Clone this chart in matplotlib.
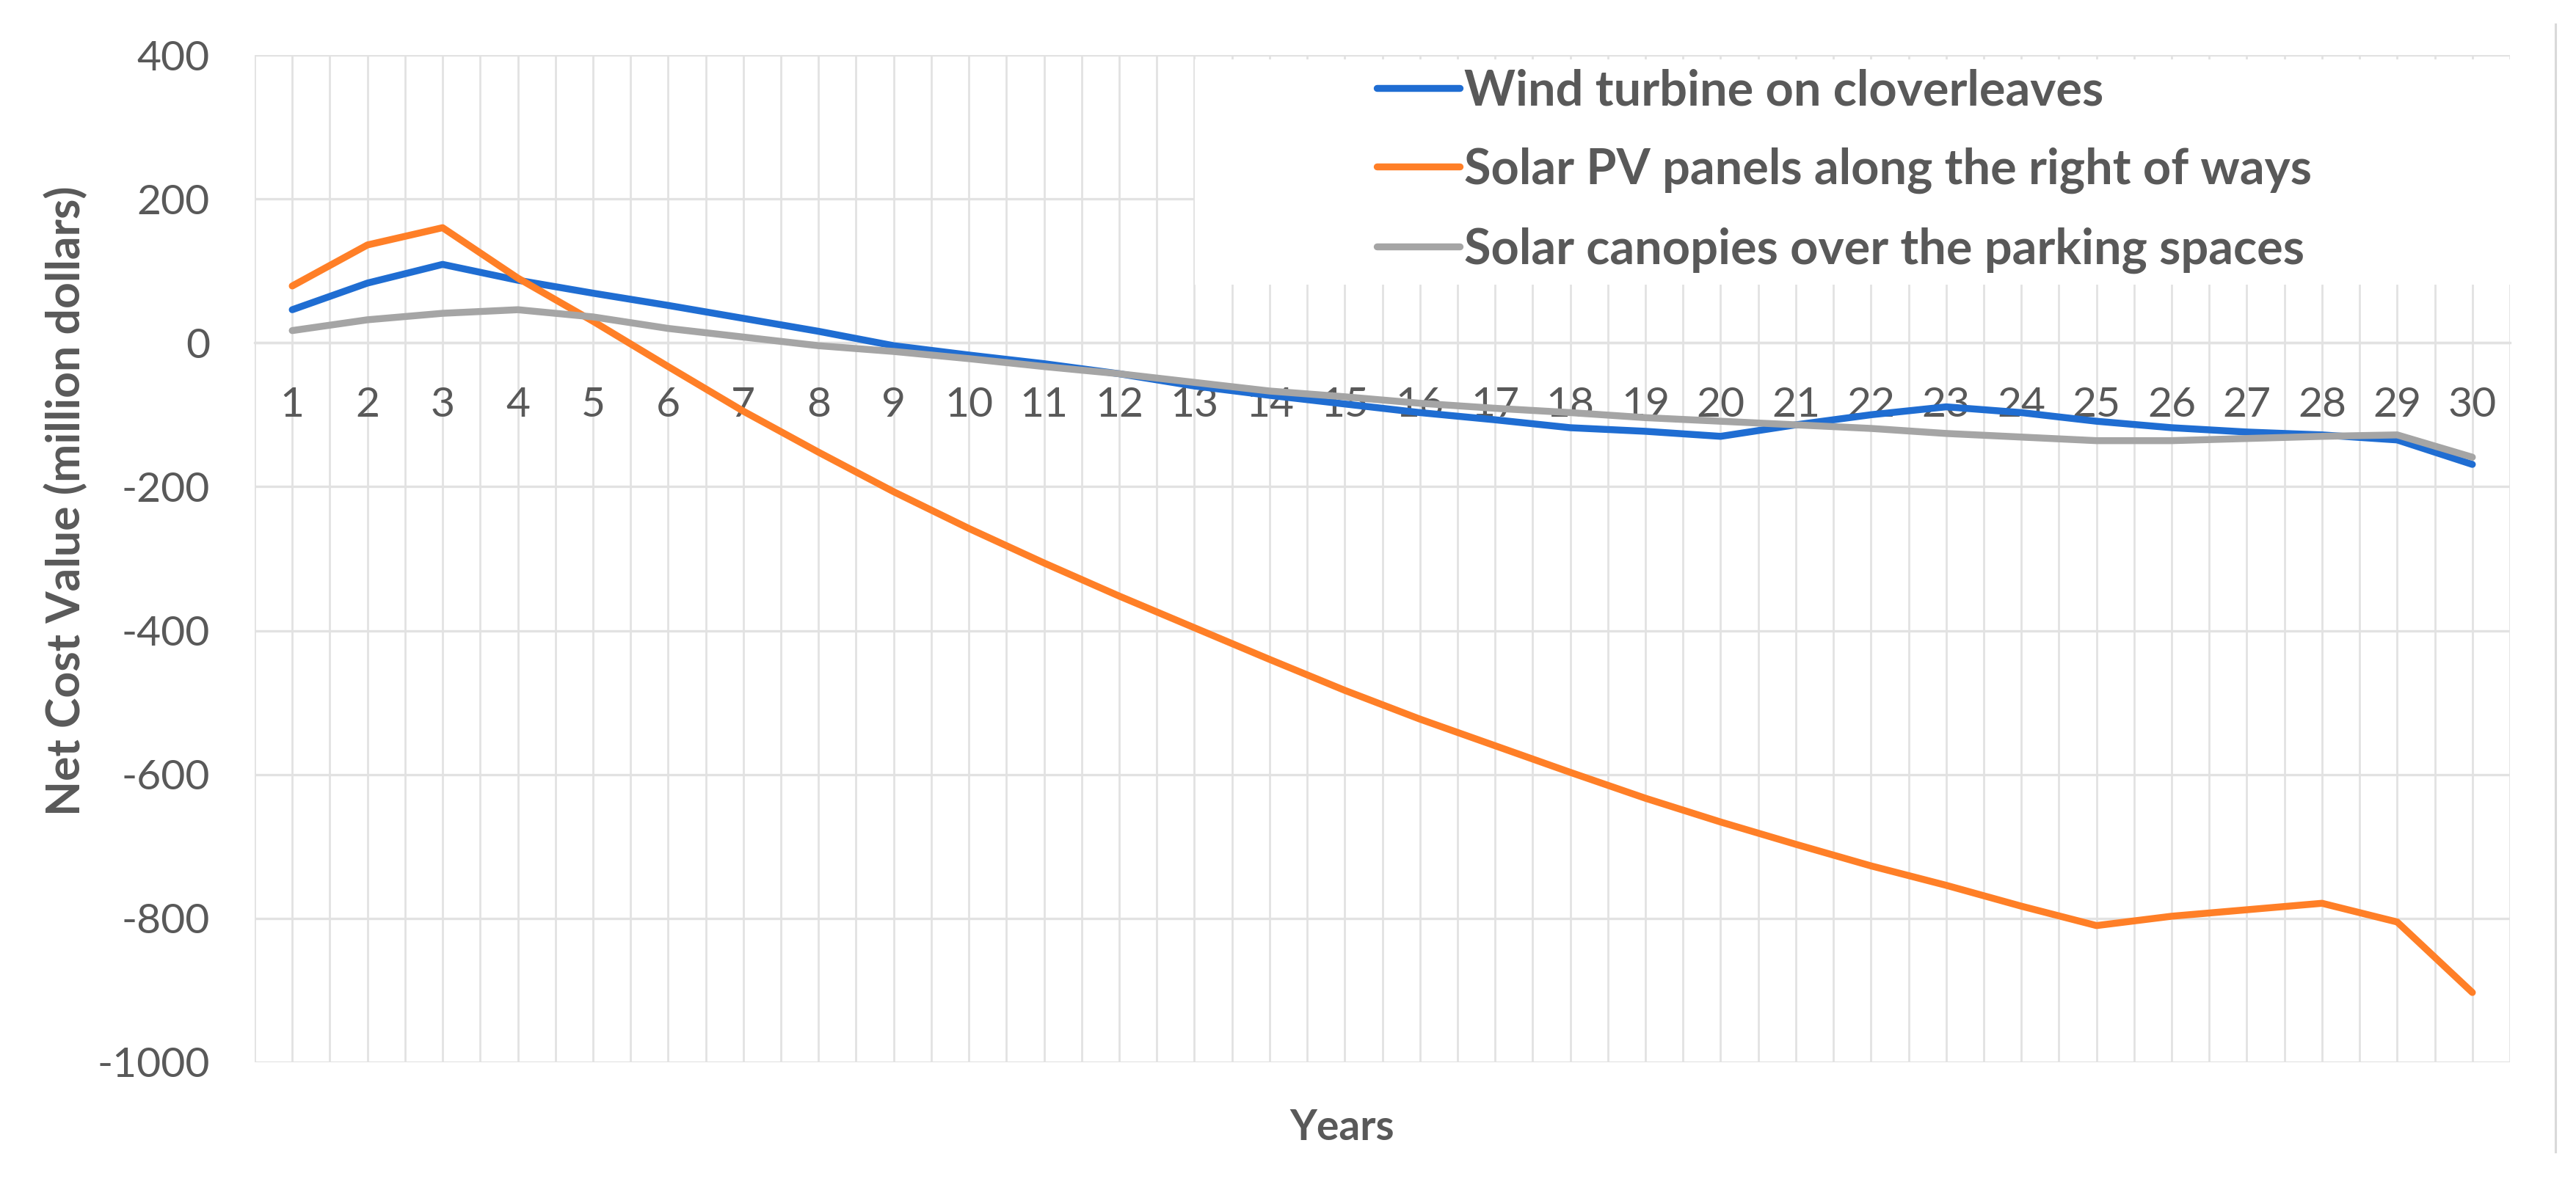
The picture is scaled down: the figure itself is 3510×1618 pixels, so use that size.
import matplotlib
matplotlib.use("Agg")
import matplotlib.pyplot as plt
from matplotlib.patches import Rectangle
from matplotlib.lines import Line2D
import numpy as np

years = list(range(1, 31))
wind = [46, 83, 109, 87, 69, 52, 34, 16, -4, -17, -29, -43, -60, -73, -85,
        -97, -107, -118, -123, -130, -114, -100, -89, -97, -109, -118, -124, -128, -135, -169]
solar_pv = [79, 136, 160, 90, 30, -33, -95, -152, -207, -258, -306, -352, -396, -440, -483,
            -523, -560, -597, -633, -666, -697, -727, -754, -783, -810, -797, -788, -779, -805, -903]
canopies = [17, 32, 41, 46, 36, 20, 8, -4, -12, -22, -33, -43, -55, -67, -75,
            -84, -91, -97, -104, -109, -114, -119, -126, -131, -136, -136, -133, -130, -128, -159]
series_names = ["Wind turbine on cloverleaves",
                "Solar PV panels along the right of ways",
                "Solar canopies over the parking spaces"]
y_ticks = [400, 200, 0, -200, -400, -600, -800, -1000]

colors = ["#1F6DD2", "#FF7F27", "#A5A5A5"]
text_col = "#595959"
grid_col = "#E2E2E2"

plt.rcParams['font.family'] = ['Lato', 'DejaVu Sans']

W, H = 3510, 1618
fig = plt.figure(figsize=(W / 100, H / 100), dpi=100)
L, R, T, B = 347, 3420, 75, 1448
ax = fig.add_axes([L / W, 1 - B / H, (R - L) / W, (B - T) / H])

ax.set_xlim(0.5, 30.5)
ax.set_ylim(-1000, 400)
ax.set_yticks(y_ticks)
ax.set_yticklabels([str(v) for v in y_ticks])
ax.set_xticks(years)
ax.set_xticklabels([str(y) for y in years])
ax.set_xticks(np.arange(0.5, 31, 1), minor=True)

ax.grid(True, which='major', axis='y', color=grid_col, lw=2.4, zorder=0)
ax.grid(True, which='both', axis='x', color=grid_col, lw=2.0, zorder=0)
ax.set_axisbelow(True)

for s in ['top', 'right', 'left']:
    ax.spines[s].set_visible(False)
ax.spines['bottom'].set_position(('data', 0))
ax.spines['bottom'].set_color(grid_col)
ax.spines['bottom'].set_linewidth(2.4)
ax.spines['bottom'].set_zorder(0.5)

ax.tick_params(axis='both', which='both', length=0, labelsize=41, labelcolor=text_col)
ax.tick_params(axis='x', pad=43)
ax.tick_params(axis='y', pad=44)

# white legend area hiding grid lines
ax.add_patch(Rectangle((0.4168, 0.772), 1 - 0.4168, 0.2235, transform=ax.transAxes,
                       facecolor='white', edgecolor='none', zorder=1))

lines = []
for vals, c, name, z in zip([wind, solar_pv, canopies], colors, series_names, [3, 4, 5]):
    ln, = ax.plot(years, vals, color=c, lw=6.8, solid_capstyle='round',
                  solid_joinstyle='round', label=name, zorder=z)
    lines.append(ln)

leg = fig.legend(handles=lines, labels=series_names, loc='center left',
                 bbox_to_anchor=(1876 / W, 1 - 233 / H), frameon=False,
                 borderpad=0, borderaxespad=0, handlelength=1.69, handletextpad=0.09,
                 labelspacing=0.68, prop={'weight': 'bold', 'size': 48})
for t in leg.get_texts():
    t.set_color(text_col)

fig.text(90 / W, 1 - 683 / H, "Net Cost Value (million dollars)", rotation=90,
         ha='center', va='center', fontsize=45, fontweight='bold', color=text_col)
fig.text(1829 / W, 1 - 1538 / H, "Years", ha='center', va='center',
         fontsize=41, fontweight='bold', color=text_col)

fig.add_artist(Line2D([3482 / W, 3482 / W], [1 - 33 / H, 1 - 1570 / H],
                      transform=fig.transFigure, color="#D9D9D9", lw=2.2))

fig.savefig("out.png", dpi=100, facecolor='white')
